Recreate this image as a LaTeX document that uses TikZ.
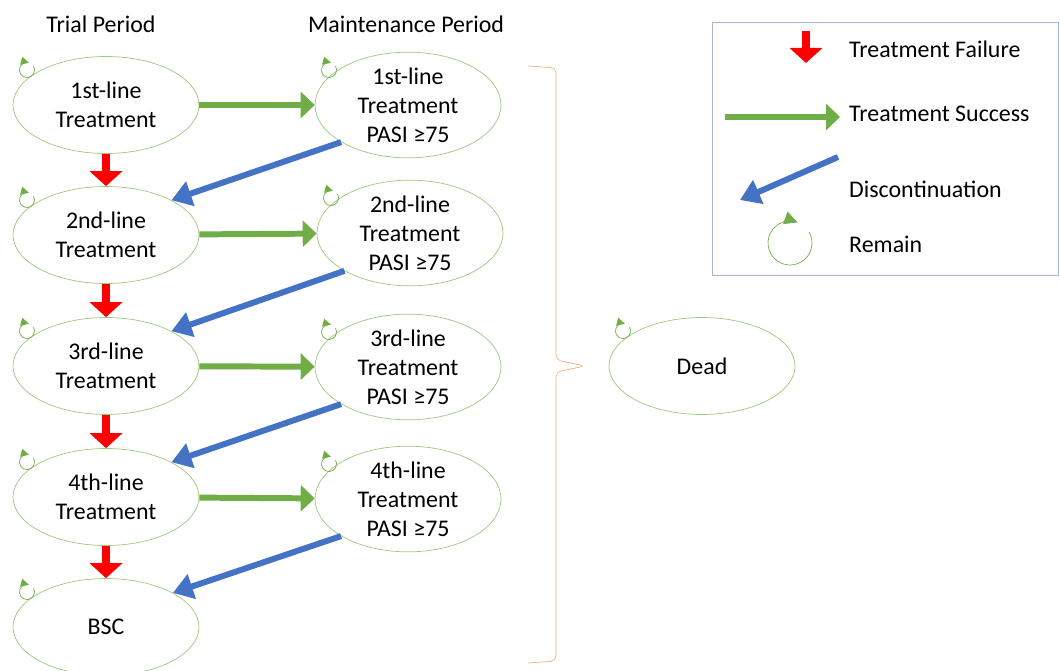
\documentclass[tikz,border=0pt]{standalone}
\usepackage{fontspec}
\setmainfont{Carlito}
\usetikzlibrary{arrows.meta,shapes.geometric}

\definecolor{okgreen}{HTML}{70AD47}
\definecolor{paleg}{HTML}{9CC97E}
\definecolor{stopblue}{HTML}{4472C4}
\definecolor{bracecol}{HTML}{F4B183}
\definecolor{legendcol}{HTML}{A5B9D6}

\begin{document}
\begin{tikzpicture}[
    x=0.02cm, y=0.02cm,
    % GLOBAL CFG
    font=\fontsize{13.6}{16.5}\selectfont,
    % Styles
    state/.style={% For the health states
        ellipse,
        draw=paleg,
        thin,
        minimum width=3.72cm,
        minimum height=1.94cm,
        inner sep=0pt,
        align=center,
        },
    head/.style={% For the column titles
        font=\fontsize{13.6}{16.5}\selectfont,
        },
    fail/.style={% Red arrows, treatment failure
        red,
        line width=4.5pt,
        -{Triangle[length=0.3cm,width=0.64cm]},
        },
    success/.style={% Green arrows, treatment success
        okgreen,
        line width=3.4pt,
        -{Triangle[length=0.28cm,width=0.52cm]},
        },
    stopped/.style={% Blue arrows, discontinuation
        stopblue,
        line width=3.4pt,
        -{Triangle[length=0.4cm,width=0.5cm]},
        },
    remain/.style={% Small loops on each state
        okgreen,
        thin,
        -{Triangle[length=0.16cm,width=0.16cm]},
        },
    bigremain/.style={% Loop in the legend
        okgreen,
        thin,
        -{Triangle[length=0.26cm,width=0.26cm]},
        },
    mylabel/.style={% legend texts
        anchor=west,
        },
    ]

\useasboundingbox (0,0) rectangle (1060,670);

% Column titles
    \node [head] (trial) at (101,646) {Trial Period};
    \node [head] (maint) at (406,646) {Maintenance Period};

% Trial period states named t#
    \node [state] (t1) at (106,565) {1st-line\\Treatment};
    \node [state] (t2) at (106,435) {2nd-line\\Treatment};
    \node [state] (t3) at (106,304) {3rd-line\\Treatment};
    \node [state] (t4) at (106,173) {4th-line\\Treatment};
    \node [state] (bsc) at (106,43) {BSC};

% Maintenance states named m#
    \node [state] (m1) at (408,565) {1st-line\\Treatment\\PASI ≥75};
    \node [state] (m2) at (410,437) {2nd-line\\Treatment\\PASI ≥75};
    \node [state] (m3) at (408,303) {3rd-line\\Treatment\\PASI ≥75};
    \node [state] (m4) at (408,171) {4th-line\\Treatment\\PASI ≥75};

    \node [state] (dead) at (702,304) {Dead};

% Remain loops
    \foreach \n in {t1,t2,t3,t4,bsc,m1,m2,m3,m4,dead}{
        \coordinate (\n-r) at ([shift={(-79,35)}]\n.center);
        \draw [remain] (\n-r) ++(30:0.15cm)
            arc[start angle=30, end angle=-285, radius=0.15cm];
    }

% Treatment failure
    \draw [fail] (t1) -- (t2);
    \draw [fail] (t2) -- (t3);
    \draw [fail] (t3) -- (t4);
    \draw [fail] (t4) -- (bsc);

% Treatment success
    \draw [success] (t1) -- (m1);
    \draw [success] (t2) -- (m2);
    \draw [success] (t3) -- (m3);
    \draw [success] (t4) -- (m4);

% Discontinuation
    \draw [stopped] (m1.209) -- (t2.28);
    \draw [stopped] (m2.210) -- (t3.28);
    \draw [stopped] (m3.209) -- (t4.28);
    \draw [stopped] (m4.209) -- (bsc.27);

% Brace towards Dead
    \draw [bracecol, thin, rounded corners=0.1cm]
        (528,604) -- (556,602) -- (556,310) -- (585,304)
        -- (556,298) -- (556,9) -- (528,7);

% Legend
    \draw [legendcol, thin] (712,648) rectangle (1058,395);
    \coordinate (lf1) at (806,639);
    \coordinate (lf2) at (806,607);
    \coordinate (ls1) at (725,553);
    \coordinate (ls2) at (840,553);
    \coordinate (ld1) at (838,513);
    \coordinate (ld2) at (740,470);
    \coordinate (lr) at (790,427);
    \draw [fail] (lf1) -- (lf2);
    \draw [success] (ls1) -- (ls2);
    \draw [stopped] (ld1) -- (ld2);
    \draw [bigremain] (lr) ++(30:0.44cm)
        arc[start angle=30, end angle=-290, radius=0.44cm];
    \node [mylabel] (lfail) at (843,621) {Treatment Failure};
    \node [mylabel] (lsucc) at (843,556) {Treatment Success};
    \node [mylabel] (ldisc) at (843,481) {Discontinuation};
    \node [mylabel] (lrem) at (843,426) {Remain};
\end{tikzpicture}
\end{document}
